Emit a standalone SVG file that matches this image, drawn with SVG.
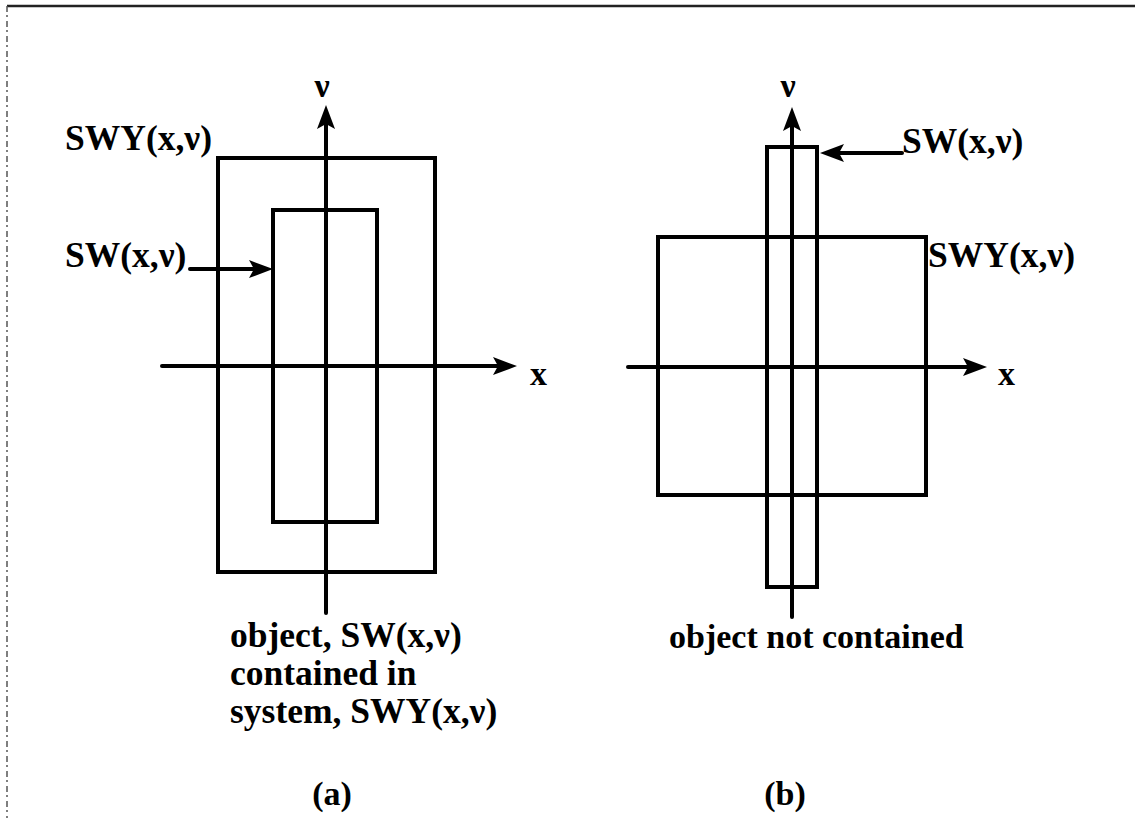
<svg xmlns="http://www.w3.org/2000/svg" width="1135" height="822" viewBox="0 0 1135 822">
<style>
  .ln { stroke:#000; stroke-width:4; fill:none; stroke-linecap:square; stroke-linejoin:miter; }
  .ax { stroke:#000; stroke-width:4; fill:none; stroke-linecap:round; }
  .t { font-family:"Liberation Serif","Times New Roman",serif; font-weight:bold; font-size:34px; fill:#000; }
  .lg { font-size:35.5px; }
  .frame { stroke:#222; stroke-width:2.5; fill:none; }
  .frame2 { stroke:#555; stroke-width:1.5; fill:none; stroke-dasharray:6 3 2 4; }
</style>
<defs>
  <marker id="ah" markerUnits="userSpaceOnUse" markerWidth="24" markerHeight="20" viewBox="0 0 24 20" refX="10" refY="10" orient="auto">
    <path d="M0,1 L24,10 L0,19 L5,10 Z" fill="#000"/>
  </marker>
</defs>
<rect width="1135" height="822" fill="#fff"/>
<g id="frame">
  <line class="frame" x1="7" y1="6" x2="1135" y2="6"/>
  <line class="frame2" x1="7" y1="6" x2="7" y2="818"/>
</g>
<g id="panel-a">
  <g id="a-system"><rect class="ln" x="218" y="158" width="217" height="414"/></g>
  <g id="a-object"><rect class="ln" x="273" y="210" width="104" height="312"/></g>
</g>
<g id="panel-b">
  <g id="b-system"><rect class="ln" x="658" y="237" width="268" height="258"/></g>
  <g id="b-object"><rect class="ln" x="767" y="147" width="50" height="440"/></g>
</g>
<g id="connectors">
  <line class="ax" x1="326" y1="613" x2="326" y2="119" marker-end="url(#ah)"/>
  <line class="ax" x1="162" y1="366" x2="503" y2="366" marker-end="url(#ah)"/>
  <line class="ax" x1="190" y1="269" x2="259" y2="269" marker-end="url(#ah)"/>
  <line class="ax" x1="792" y1="617" x2="792" y2="121" marker-end="url(#ah)"/>
  <line class="ax" x1="628" y1="367" x2="973" y2="367" marker-end="url(#ah)"/>
  <line class="ax" x1="902" y1="153" x2="834" y2="153" marker-end="url(#ah)"/>
</g>
<g id="labels-a">
  <text class="t" x="322" y="97" text-anchor="middle">ν</text>
  <text class="t lg" x="65" y="150">SWY(x,ν)</text>
  <text class="t lg" x="65" y="267">SW(x,ν)</text>
  <text class="t" x="530" y="385">x</text>
  <text class="t lg" x="230" y="647">object, SW(x,ν)</text>
  <text class="t lg" x="230" y="685">contained in</text>
  <text class="t lg" x="230" y="723">system, SWY(x,ν)</text>
  <text class="t" x="332" y="805" text-anchor="middle">(a)</text>
</g>
<g id="labels-b">
  <text class="t" x="788" y="97" text-anchor="middle">ν</text>
  <text class="t lg" x="902" y="153">SW(x,ν)</text>
  <text class="t lg" x="928" y="267">SWY(x,ν)</text>
  <text class="t" x="998" y="385">x</text>
  <text class="t" x="669" y="648">object not contained</text>
  <text class="t" x="785" y="805" text-anchor="middle">(b)</text>
</g>
</svg>
